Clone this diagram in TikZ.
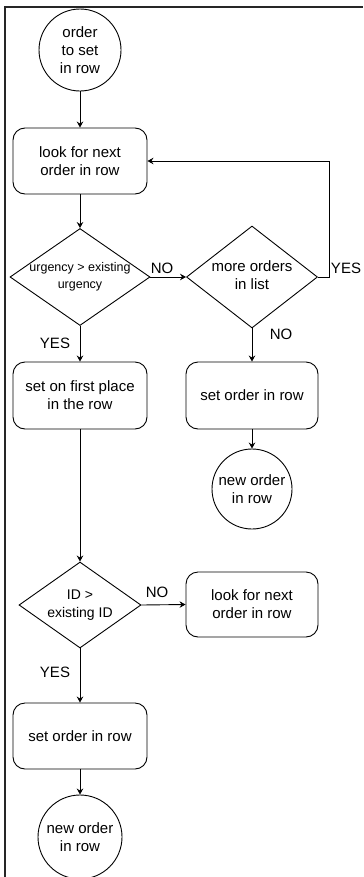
\documentclass[tikz,border=0pt]{standalone}
\usepackage{fontspec}
\setmainfont{Liberation Sans}
\usetikzlibrary{shapes.geometric,arrows.meta}

\tikzset{
  base/.style={draw=black, line width=0.9bp, inner sep=0pt, align=center,
    font=\fontsize{15bp}{18bp}\selectfont},
  proc/.style={base, rectangle, rounded corners=12bp},
  term/.style={base, circle},
  dec/.style={base, diamond},
  lbl/.style={inner sep=1bp, font=\fontsize{15bp}{18bp}\selectfont},
  arr/.style={draw=black, line width=0.9bp,
    -{Stealth[length=6bp,width=6.5bp,inset=2bp]}},
  frameline/.style={draw=black!85, line width=1.6bp}
}

\begin{document}
\begin{tikzpicture}[x=1bp, y=-1bp]
  \useasboundingbox (0,0) rectangle (363,877);

  % page frame: left and top rules
  \coordinate (fb) at (5,877);
  \coordinate (fc) at (5,7);
  \coordinate (fr) at (363,7);
  \draw[frameline] (fb) -- (fc) -- (fr);

  % left column
  \node[term, minimum size=82bp] (start) at (80,50) {order\\to set\\in row};
  \node[proc, minimum width=134bp, minimum height=66bp] (look1) at (80,161)
    {look for next\\order in row};
  \node[dec, minimum width=140bp, minimum height=97bp] (d1) at (80,277)
    {\makebox[0pt]{\fontsize{12.5bp}{17bp}\selectfont
      \begin{tabular}{@{}c@{}}urgency > existing\\urgency\end{tabular}}};
  \node[proc, minimum width=134bp, minimum height=67bp] (first) at (80,395.5)
    {set on first place\\in the row};
  \node[dec, minimum width=122bp, minimum height=86bp] (d3) at (80,605)
    {\makebox[0pt]{\fontsize{14bp}{18bp}\selectfont
      \begin{tabular}{@{}c@{}}ID >\\existing ID\end{tabular}}};
  \node[proc, minimum width=134bp, minimum height=66bp] (setB) at (80,736)
    {set order in row};
  \node[term, minimum size=84bp] (newB) at (80,837) {new order\\in row};

  % right column
  \node[dec, minimum width=131bp, minimum height=102bp] (d2) at (252,277)
    {\makebox[0pt]{\begin{tabular}{@{}c@{}}more orders\\in list\end{tabular}}};
  \node[proc, minimum width=132bp, minimum height=67bp] (setR) at (252,395.5)
    {set order in row};
  \node[term, minimum size=80bp] (newR) at (252,489) {new order\\in row};
  \node[proc, minimum width=132bp, minimum height=65bp] (look2) at (252,604.5)
    {look for next\\order in row};

  % connectors
  \draw[arr] (start) -- (look1);
  \draw[arr] (look1) -- (d1);
  \draw[arr] (d1.east) -- (d2.west);
  \coordinate (loop) at (329,277);
  \draw[arr] (d2.east) -- (loop) |- (look1.east);
  \draw[arr] (d2.south) -- (setR.north);
  \draw[arr] (setR) -- (newR);
  \draw[arr] (d1.south) -- (first.north);
  \draw[arr] (first) -- (d3.north);
  \draw[arr] (d3.east) -- (look2.west);
  \draw[arr] (d3.south) -- (setB.north);
  \draw[arr] (setB) -- (newB);

  % branch labels
  \node[lbl] (no1) at (162,268) {NO};
  \node[lbl] (yes1) at (346,268) {YES};
  \node[lbl] (no2) at (281,334) {NO};
  \node[lbl] (yes2) at (55,343) {YES};
  \node[lbl] (no3) at (157,592) {NO};
  \node[lbl] (yes3) at (55,672) {YES};
\end{tikzpicture}
\end{document}
